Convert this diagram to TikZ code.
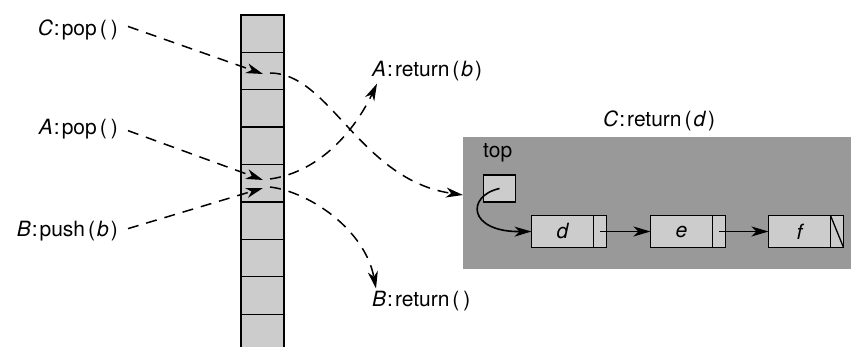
\documentclass[tikz,border=0pt]{standalone}
\usepackage{fontspec}
\setmainfont{TeX Gyre Heros}
\usetikzlibrary{arrows.meta,positioning}
\definecolor{cellgray}{HTML}{CCCCCC}
\definecolor{heapgray}{HTML}{999999}
\newcommand{\call}[3]{\textit{#1}\kern1pt:\kern2pt#2\kern3pt(\kern2pt\textit{#3}\kern2pt)}
\begin{document}
\begin{tikzpicture}[x=1pt,y=-1pt,
  every node/.style={font=\fontsize{21}{25}\selectfont},
  cell/.style={draw,fill=cellgray,line width=1.4pt,minimum width=43pt,minimum height=37.4pt,inner sep=0pt,outer sep=0pt},
  item/.style={draw,fill=cellgray,line width=1.3pt,minimum width=62pt,minimum height=32pt,inner sep=0pt,outer sep=0pt,font=\fontsize{21}{25}\selectfont\itshape},
  ptr/.style={draw,fill=cellgray,line width=1.3pt,minimum width=13pt,minimum height=32pt,inner sep=0pt,outer sep=0pt},
  opname/.style={inner xsep=10pt,inner ysep=3pt},
  result/.style={inner xsep=0pt,inner ysep=2pt},
  link/.style={dash pattern=on 11pt off 8pt,line width=1.5pt},
  tip/.style={-{Stealth[length=17pt,width=10pt,inset=5pt]}}]
  \useasboundingbox (0,0) rectangle (851,347);
  % stack cells
  \foreach \i in {0,...,8}
    \node[cell] (s\i) at (262.5,{15+37.4*(\i+0.5)}) {};
  % list of C
  \node[fill=heapgray,minimum width=388pt,minimum height=132pt,inner sep=0pt,outer sep=0pt] (heap) at (657,203) {};
  \node[anchor=base west,result] (rC) at (603,127) {\call{C}{return}{d}};
  \node[anchor=base west,inner sep=0pt] (toplabel) at (483,158) {top};
  \node[ptr,minimum width=32pt,minimum height=27pt] (top) at (499.5,188.5) {};
  \node[item] (d) at (562.5,231.5) {d};
  \node[ptr,right=0pt of d] (dp) {};
  \node[item,right=44pt of dp] (e) {e};
  \node[ptr,right=0pt of e] (ep) {};
  \node[item,right=43pt of ep] (f) {f};
  \node[ptr,right=0pt of f] (fp) {};
  \draw[line width=1.3pt] (fp.north west) -- (fp.south east);
  \draw[tip,line width=1.6pt] (dp.center) -- (e.west);
  \draw[tip,line width=1.6pt] (ep.center) -- (f.west);
  \draw[tip,line width=1.6pt] (top.center) .. controls (466,196) and (468,232) .. (d.west);
  % operations
  \node[anchor=base east,opname] (pC) at (128,36) {\call{C}{pop}{}};
  \node[anchor=base east,opname] (pA) at (128,135) {\call{A}{pop}{}};
  \node[anchor=base east,opname] (pB) at (128,237) {\call{B}{push}{b}};
  \node[anchor=base west,result] (rA) at (372,77) {\call{A}{return}{b}};
  \node[anchor=base west,result] (rB) at (372,306) {\call{B}{return}{}};
  \coordinate (inC) at (263,74);  \coordinate (outC) at (270,73);
  \coordinate (inA) at (263,180); \coordinate (outA) at (270,179);
  \coordinate (inB) at (263,188); \coordinate (outB) at (270,187);
  \draw[link,tip] ([yshift=4pt]pC.east) -- (inC);
  \draw[link,tip] ([yshift=-1pt]pA.east) -- (inA);
  \draw[link,tip] ([yshift=3pt]pB.east) -- (inB);
  \draw[link,tip] (outC) .. controls (330,73) and (360,180) .. ([yshift=8pt]heap.west);
  \draw[link,tip] (outA) .. controls (320,172) and (355,130) .. ([xshift=5pt]rA.south west);
  \draw[link,tip] (outB) .. controls (310,192) and (365,230) .. ([xshift=4pt]rB.north west);
\end{tikzpicture}
\end{document}
